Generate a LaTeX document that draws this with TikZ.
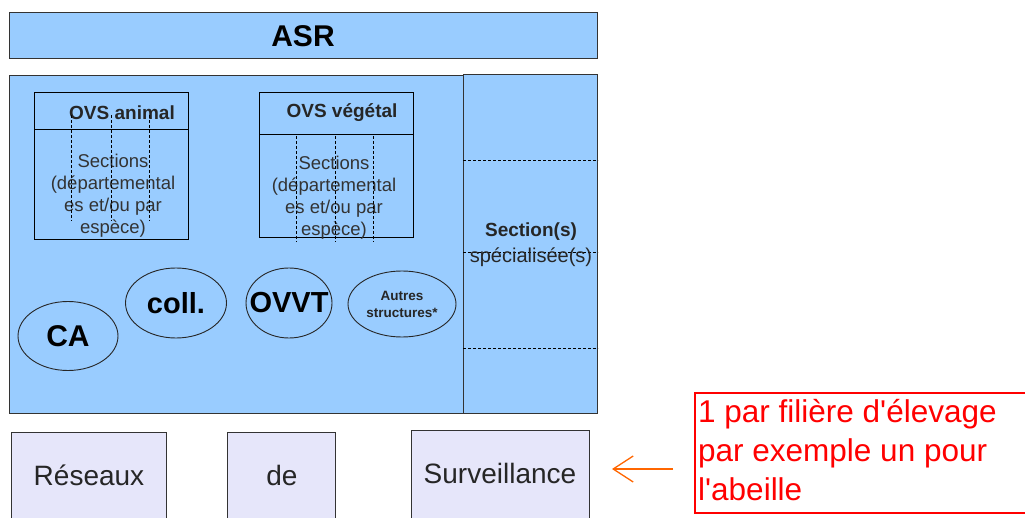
\documentclass[tikz,border=0pt]{standalone}
\usepackage{fontspec}
\setmainfont{Liberation Sans}
\usetikzlibrary{arrows.meta,shapes.geometric}
\definecolor{bluefill}{HTML}{99CCFF}
\definecolor{lavfill}{HTML}{E6E6FA}
\definecolor{edge}{HTML}{333333}
\definecolor{txtgrey}{HTML}{333333}
\definecolor{redtxt}{HTML}{FF0000}
\definecolor{orangearrow}{HTML}{FF6600}
\tikzset{
  bluebox/.style={draw=edge, fill=bluefill, line width=1pt, inner sep=0pt, anchor=north west},
  lavbox/.style={draw=edge, fill=lavfill, line width=1pt, inner sep=0pt, anchor=north west},
  ovsbox/.style={draw=black, line width=1pt, inner sep=0pt, anchor=north west},
  dashln/.style={draw=black, line width=0.9pt, dash pattern=on 3pt off 2pt},
  oval/.style={draw=black!85, line width=0.9pt, ellipse, inner sep=0pt},
  hdr/.style={font=\fontsize{19}{22}\selectfont\bfseries, text=black!85},
  sect/.style={font=\fontsize{18.5}{22}\selectfont, text=txtgrey, align=center},
  lavtxt/.style={font=\fontsize{28}{30}\selectfont, text=black!85},
}
\begin{document}
\begin{tikzpicture}[x=1pt,y=-1pt]
\clip (0,0) rectangle (1025,518);
\fill[white] (0,0) rectangle (1025,518);
% ASR
\node[bluebox, minimum width=588pt, minimum height=46pt] (asr) at (9,12) {};
\node[font=\fontsize{30}{32}\selectfont\bfseries] (asrt) at (303,36) {ASR};
% main box
\node[bluebox, minimum width=454pt, minimum height=338pt] (main) at (9,75) {};
\node[bluebox, minimum width=134pt, minimum height=339pt] (spec) at (463,74) {};
\draw[dashln] (spec.west |- 0,160) coordinate (d1a) -- (spec.east |- 0,160) coordinate (d1b);
\draw[dashln] (spec.west |- 0,348) coordinate (d2a) -- (spec.east |- 0,348) coordinate (d2b);
\draw[dashln] (spec.west |- 0,252) coordinate (d3a) -- (spec.east |- 0,252) coordinate (d3b);
\node[font=\fontsize{19}{22}\selectfont\bfseries, text=black!85] (sect1) at (531,232) {Section(s)};
\node[font=\fontsize{20}{22}\selectfont, text=black!85] (sect2) at (531,257) {spécialisée(s)};
% OVS animal
\node[ovsbox, minimum width=154pt, minimum height=147pt] (ova) at (34,92) {};
\coordinate (ovah1) at (34,130);
\coordinate (ovah2) at (188,130);
\draw[black, line width=1pt] (ovah1) -- (ovah2);
\node[hdr] (ovat) at (122,113) {OVS animal};
\node[sect] (ovas) at (113,196) {Sections\\(départemental\\es et/ou par\\espèce)};
\foreach \xx/\nm in {71/a1,111/a2,149/a3}{
  \coordinate (\nm t) at (\xx,115);
  \coordinate (\nm b) at (\xx,221);
  \draw[dashln] (\nm t) -- (\nm b);
}
% OVS vegetal
\node[ovsbox, minimum width=154pt, minimum height=145pt] (ovv) at (259,92) {};
\coordinate (ovvh1) at (259,135);
\coordinate (ovvh2) at (413,135);
\draw[black, line width=1pt] (ovvh1) -- (ovvh2);
\node[hdr] (ovvt) at (342,113) {OVS végétal};
\node[sect] (ovvs) at (334,198) {Sections\\(départemental\\es et/ou par\\espèce)};
\foreach \xx/\nm in {296/v1,335/v2,373/v3}{
  \coordinate (\nm t) at (\xx,136);
  \coordinate (\nm b) at (\xx,242);
  \draw[dashln] (\nm t) -- (\nm b);
}
% ellipses
\node[oval, minimum width=100pt, minimum height=69pt] (ca) at (68,336) {};
\node[font=\fontsize{30}{32}\selectfont\bfseries] (cat) at (ca.center) {CA};
\node[oval, minimum width=101pt, minimum height=70pt] (coll) at (176,303) {};
\node[font=\fontsize{29}{32}\selectfont\bfseries] (collt) at (coll.center) {coll.};
\node[oval, minimum width=86pt, minimum height=70pt] (ovvt) at (289,303) {};
\node[font=\fontsize{29}{32}\selectfont\bfseries] (ovvtt) at (ovvt.center) {OVVT};
\node[oval, minimum width=108pt, minimum height=66pt] (autres) at (402,304) {};
\node[font=\fontsize{13.5}{17}\selectfont\bfseries, align=center, text=black!85] (autrest) at (autres.center) {Autres\\structures*};
% bottom boxes
\node[lavbox, minimum width=155pt, minimum height=100pt] (res) at (11,432) {};
\node[lavtxt, anchor=base] (rest) at (89,485) {Réseaux};
\node[lavbox, minimum width=108pt, minimum height=100pt] (de) at (227,432) {};
\node[lavtxt, anchor=base] (det) at (282,485) {de};
\node[lavbox, minimum width=178pt, minimum height=100pt] (surv) at (411,430) {};
\node[lavtxt, anchor=base] (survt) at (500,483) {Surveillance};
% red note
\node[draw=redtxt, line width=1.5pt, anchor=north west, minimum width=334pt, minimum height=120pt, inner sep=0pt] (note) at (694,392) {};
\node[anchor=base west, text=redtxt, font=\fontsize{31.5}{39}\selectfont, align=left, inner sep=0pt] (notet) at (698,500) {1 par filière d\textquotesingle élevage\\par exemple un pour\\l\textquotesingle abeille};
\coordinate (arrtail) at (673,469);
\coordinate (arrtip) at (612,469);
\draw[orangearrow, line width=1.3pt, -{Straight Barb[length=20pt,width=26pt]}] (arrtail) -- (arrtip);
\end{tikzpicture}
\end{document}
